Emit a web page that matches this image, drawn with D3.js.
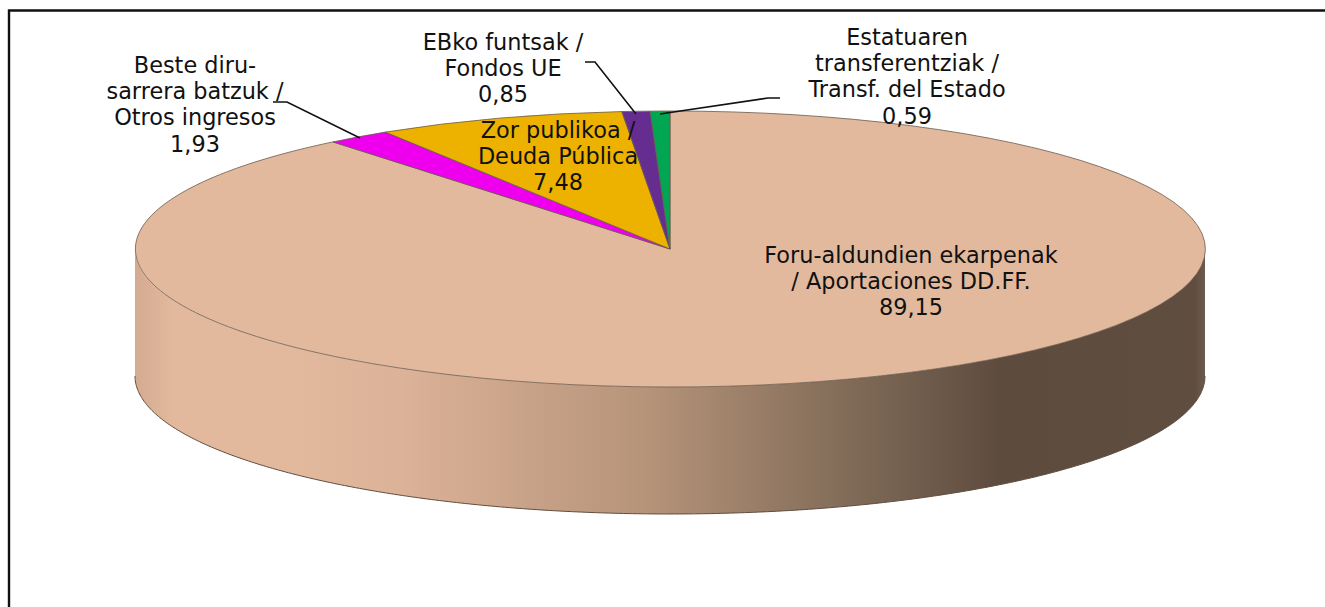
<!DOCTYPE html>
<html><head><meta charset="utf-8">
<script src="https://cdn.jsdelivr.net/npm/d3@7/dist/d3.min.js"></script>
<style>html,body{margin:0;padding:0;background:#fff;overflow:hidden}svg{display:block}text{font-family:"DejaVu Sans",Verdana,sans-serif;font-size:22.4px;fill:#111}</style>
</head><body><svg id="c" width="1325" height="607"></svg>
<script>
const categories=["Foru-aldundien ekarpenak / Aportaciones DD.FF.","Beste diru-sarrera batzuk / Otros ingresos","Zor publikoa / Deuda Pública","EBko funtsak / Fondos UE","Estatuaren transferentziak / Transf. del Estado"];
const seriesValues=[89.15,1.93,7.48,0.85,0.59];
const valueLabels=["89,15","1,93","7,48","0,85","0,59"];
const sliceColors=["#e2b99d","#ee00ee","#edb100","#662d91","#00a651"];
const labelLines=[["Foru-aldundien ekarpenak","/ Aportaciones DD.FF.","89,15"],["Beste diru-","sarrera batzuk /","Otros ingresos","1,93"],["Zor publikoa /","Deuda Pública","7,48"],["EBko funtsak /","Fondos UE","0,85"],["Estatuaren","transferentziak /","Transf. del Estado","0,59"]];
const labelAnchors=[[911,263],[195,73],[558,138],[503,50],[907,45]];
const leaders=[null,[[273,102],[287,102],[360,138]],null,[[585,62],[595,62],[636,114]],[[780,98],[768,98],[660,114]]];
const sideStops=[[0,"#d4ab90"],[.035,"#e2b99d"],[.15,"#e2b99d"],[.25,"#dcb298"],[.48,"#b59379"],[.678,"#7e6956"],[.81,"#5d4b3e"],[.99,"#5f4d40"],[1,"#6d5a4c"]];

const W=1325,H=607,cx=670,cy=249,rx=535,ry=138,depth=127,lineStep=26.2;
const svg=d3.select("#c");
svg.append("path").attr("d",d3.line()([[9,H],[9,10.5],[W,10.5]])).attr("fill","none").attr("stroke","#111").attr("stroke-width",2.4);
const defs=svg.append("defs");
const grad=defs.append("linearGradient").attr("id","side").attr("gradientUnits","userSpaceOnUse").attr("x1",cx-rx).attr("x2",cx+rx).attr("y1",0).attr("y2",0);
sideStops.forEach(s=>grad.append("stop").attr("offset",s[0]).attr("stop-color",s[1]));

const X=d3.scaleLinear().domain([-1,1]).range([cx-rx,cx+rx]);
const Y=d3.scaleLinear().domain([-1,1]).range([cy-ry,cy+ry]);
const pie=d3.pie().sort(null).startAngle(0).endAngle(2*Math.PI);
const arcs=pie(seriesValues);
const thetas=d3.range(0,361).map(i=>Math.PI/2+i/360*Math.PI);
const area=d3.area().x(t=>X(Math.sin(t))).y0(t=>Y(-Math.cos(t))).y1(t=>Y(-Math.cos(t))+depth);
svg.append("path").attr("d",area(thetas)).attr("fill","url(#side)");
const rim=d3.line().x(t=>X(Math.sin(t))).y(t=>Y(-Math.cos(t))+depth);
svg.append("path").attr("d",rim(thetas)).attr("fill","none").attr("stroke","#5f4d40").attr("stroke-width",1);
const arcGen=d3.arc().innerRadius(0).outerRadius(1);
const g=svg.append("g").attr("transform",`translate(${cx},${cy}) scale(${rx},${ry})`);
g.selectAll("path").data(arcs).join("path").attr("d",arcGen).attr("fill",(d,i)=>sliceColors[i]).attr("stroke","#6b5a4d").attr("stroke-width",.8).attr("vector-effect","non-scaling-stroke");
const ln=d3.line();
svg.selectAll("path.leader").data(leaders.filter(Boolean)).join("path").attr("class","leader").attr("d",ln).attr("fill","none").attr("stroke","#111").attr("stroke-width",1.6);
labelLines.forEach((lines,i)=>{
  const t=svg.append("text").attr("text-anchor","middle").attr("x",labelAnchors[i][0]).attr("y",labelAnchors[i][1]);
  lines.forEach((s,k)=>t.append("tspan").attr("x",labelAnchors[i][0]).attr("y",labelAnchors[i][1]+k*lineStep).text(s));
});
</script></body></html>
